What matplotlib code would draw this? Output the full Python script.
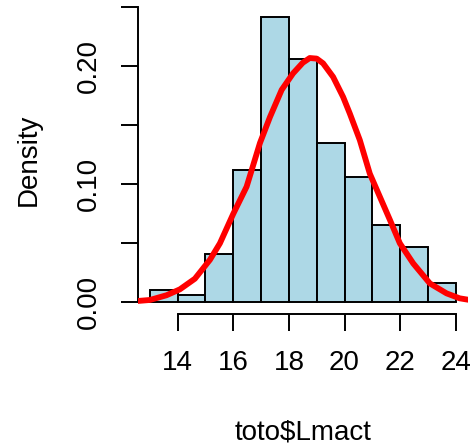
import matplotlib
matplotlib.use("Agg")
import matplotlib.pyplot as plt
import numpy as np

# histogram data (density, bin width 1)
bin_edges = [13, 14, 15, 16, 17, 18, 19, 20, 21, 22, 23, 24]
densities = [0.0107, 0.0062, 0.041, 0.1124, 0.2418, 0.2064, 0.135, 0.1062, 0.0653, 0.0469, 0.0166]

# kernel density curve
curve_x = [12.3, 12.49, 13.0, 13.6, 14.08, 14.62, 15.16, 15.52, 16.0, 16.48, 16.96, 17.32, 17.74,
           18.15, 18.5, 18.75, 19.0, 19.23, 19.59, 19.95, 20.19, 20.55, 20.91, 21.27, 21.63,
           21.99, 22.47, 23.07, 23.67, 24.14, 24.5, 24.7]
curve_y = [0.001, 0.001, 0.002, 0.006, 0.011, 0.020, 0.036, 0.050, 0.075, 0.098, 0.135, 0.157, 0.180,
           0.194, 0.203, 0.207, 0.2065, 0.2025, 0.191, 0.174, 0.160, 0.1375, 0.109, 0.0895, 0.070,
           0.050, 0.033, 0.016, 0.0076, 0.0034, 0.002, 0.0015]

xticks = [14, 16, 18, 20, 22, 24]
yticks = [0.00, 0.05, 0.10, 0.15, 0.20, 0.25]
ytick_labels = ["0.00", "", "0.10", "", "0.20", ""]

plt.rcParams['font.family'] = ['Liberation Sans', 'DejaVu Sans']

fig = plt.figure(figsize=(4.73, 4.47), dpi=100)
ax = fig.add_axes([0.2909, 0.2975, 0.6985, 0.6902])

lefts = bin_edges[:-1]
widths = np.diff(bin_edges)
ax.bar(lefts, densities, width=widths, align='edge', color='#ADD8E6',
       edgecolor='black', linewidth=1.4, zorder=2)

ax.plot(curve_x, curve_y, color='red', linewidth=4.2, solid_capstyle='round',
        solid_joinstyle='round', zorder=3)

ax.set_xlim(12.56, 24.44)
ax.set_ylim(-0.0099, 0.2515)

for s in ['top', 'right']:
    ax.spines[s].set_visible(False)
ax.spines['left'].set_bounds(0, 0.25)
ax.spines['bottom'].set_bounds(14, 24)
ax.spines['left'].set_linewidth(1.4)
ax.spines['bottom'].set_linewidth(1.4)

ax.set_xticks(xticks)
ax.set_xticklabels([str(t) for t in xticks])
ax.set_yticks(yticks)
ax.set_yticklabels(ytick_labels, rotation=90, va='center')
ax.tick_params(direction='out', length=12, width=1.4, labelsize=20, pad=14)

ax.set_xlabel("toto$Lmact", fontsize=20, labelpad=31)
ax.set_ylabel("Density", fontsize=20, labelpad=24)

fig.savefig("out.png", dpi=100)
